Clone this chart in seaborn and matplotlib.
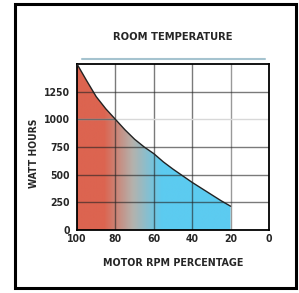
import matplotlib
matplotlib.use("Agg")
import matplotlib.pyplot as plt
import numpy as np
import pandas as pd
import seaborn as sns
from matplotlib.colors import LinearSegmentedColormap
from matplotlib.patches import Polygon, Rectangle

# Dati
rpm_pct = [100, 95, 90, 85, 80, 75, 70, 65, 60, 55, 50, 45, 40, 35, 30, 25, 20]
watt_hours = [1500, 1350, 1205, 1095, 1000, 905, 820, 750, 690,
              615, 550, 490, 430, 375, 320, 265, 215]
x_ticks = [100, 80, 60, 40, 20, 0]
y_ticks = [0, 250, 500, 750, 1000, 1250]

df = pd.DataFrame({"rpm": rpm_pct, "wh": watt_hours})

sns.set_style("white")
plt.rcParams["font.family"] = ["DejaVu Sans"]
plt.rcParams["font.stretch"] = "condensed"

fig = plt.figure(figsize=(2.99, 2.93), dpi=100)
ax = fig.add_axes([77 / 299, 1 - 230 / 293, 192 / 299, 166 / 293])

# riempimento con gradiente rosso -> blu
cmap = LinearSegmentedColormap.from_list(
    "temp", [(0.0, "#5ccbf0"), (0.56, "#5ccbf0"), (0.71, "#b4b2ad"),
             (0.86, "#dc6450"), (1.0, "#dc6450")])
grad = np.linspace(0, 1, 400).reshape(1, -1)
img = ax.imshow(grad, extent=[0, 100, 0, 1500], cmap=cmap, aspect="auto",
                origin="lower", zorder=1)
verts = [(rpm_pct[0], 0)] + list(zip(rpm_pct, watt_hours)) + [(rpm_pct[-1], 0)]
poly = Polygon(verts, closed=True, facecolor="none", edgecolor="none")
ax.add_patch(poly)
img.set_clip_path(poly)

# griglia
for xv in [80, 60, 40]:
    ax.axvline(xv, color="#222222", lw=1.0, alpha=0.6, zorder=2)
ax.axvline(20, color="#999999", lw=1.0, zorder=2)
for yv in [250, 500, 750, 1250]:
    ax.axhline(yv, color="#222222", lw=1.0, alpha=0.6, zorder=2)
ax.axhline(1000, color="#d8d8d8", lw=1.0, zorder=2)
ax.hlines(1000, 100, 80, color="#222222", lw=1.0, alpha=0.6, zorder=2)

sns.lineplot(data=df, x="rpm", y="wh", color="#222222", lw=1.0, ax=ax, zorder=3)

ax.set_xlim(100, 0)
ax.set_ylim(0, 1500)
ax.set_xticks(x_ticks)
ax.set_yticks(y_ticks)
ax.tick_params(axis="x", length=0, pad=3)
ax.tick_params(axis="y", length=0, pad=5)
for lbl in ax.get_xticklabels() + ax.get_yticklabels():
    lbl.set_fontweight("bold")
    lbl.set_fontsize(7.5)
    lbl.set_fontstretch("condensed")
for s in ax.spines.values():
    s.set_color("black")
    s.set_linewidth(1.3)
ax.set_xlabel("MOTOR RPM PERCENTAGE", fontweight="bold", fontsize=7.7,
              fontstretch="condensed")
ax.set_ylabel("WATT HOURS", fontweight="bold", fontsize=7.4,
              fontstretch="condensed")
ax.xaxis.set_label_coords(0.5, -0.169)
ax.yaxis.set_label_coords(-0.198, 0.464)

fig.text(173 / 299, 1 - 37 / 293, "ROOM TEMPERATURE", ha="center", va="center",
         fontweight="bold", fontsize=8, fontstretch="condensed")
fig.add_artist(plt.Line2D([82 / 299, 265 / 299], [1 - 59 / 293, 1 - 59 / 293],
                          color="#a5c3cf", lw=1.5, transform=fig.transFigure))
fig.add_artist(Rectangle((15 / 299, 1 - 288 / 293), 281 / 299, 284 / 293,
                         fill=False, edgecolor="black", lw=2.2,
                         transform=fig.transFigure))

fig.savefig("out.png", dpi=100)
